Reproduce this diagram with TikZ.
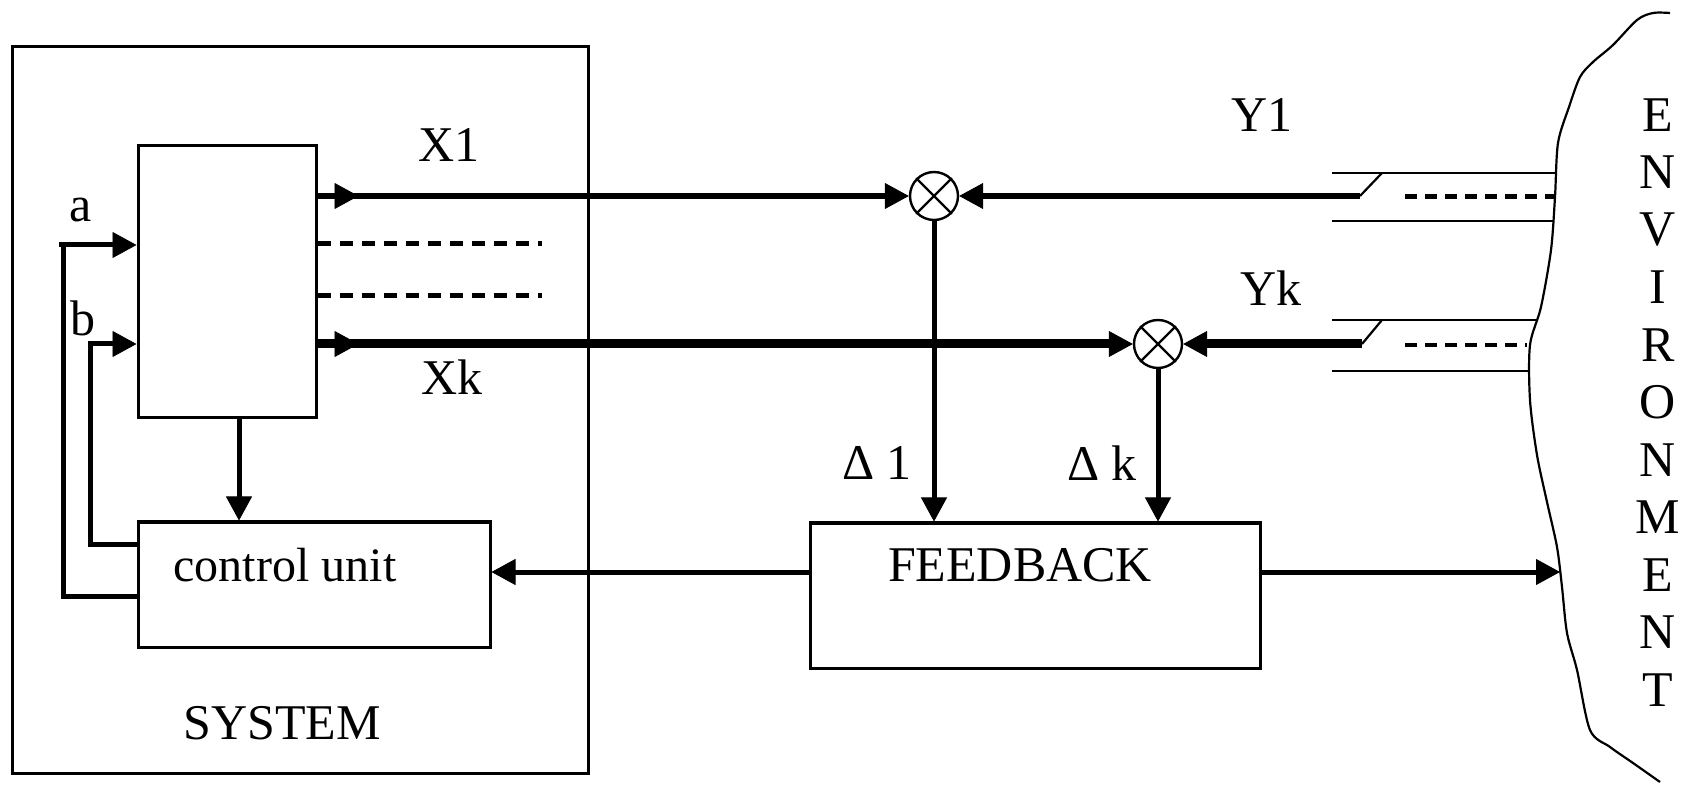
\documentclass[tikz,border=0pt]{standalone}
\usepackage{fontspec}
\setmainfont{Liberation Serif}
\usetikzlibrary{arrows.meta}
\tikzset{
  tip/.tip={Triangle[length=12pt,width=13pt,line width=0.4pt]},
  boxed/.style={draw,line width=1.5pt,inner sep=0pt},
  sig/.style={line width=3pt},
  sigk/.style={line width=4.5pt},
  wire/.style={line width=2.5pt},
  thinl/.style={line width=1.1pt},
  dsh/.style={line width=2.5pt,dash pattern=on 6.5pt off 4.5pt},
  lbl/.style={inner sep=0pt,font=\fontsize{25}{30}\selectfont},
  summer/.style={draw,circle,line width=1.2pt,minimum size=24pt,inner sep=0pt},
}
\begin{document}
\begin{tikzpicture}[x=0.5pt,y=-0.5pt]
\useasboundingbox (0,0) rectangle (1694,786);
% boxes
\node[boxed,minimum width=288pt,minimum height=363pt] (sys) at (300,410) {};
\node[boxed,minimum width=89pt,minimum height=136pt] (blk) at (227,282) {};
\node[boxed,minimum width=176pt,minimum height=62.5pt] (ctrl) at (314,584.5) {};
\node[boxed,minimum width=225pt,minimum height=72.5pt] (fb) at (1035,595.5) {};
% texts
\node[lbl,font=\fontsize{24}{29}\selectfont] (cutext) at (285,565) {control unit};
\node[lbl] (systext) at (282,723) {SYSTEM};
\node[lbl] (fbtext) at (1020,565) {FEEDBACK};
\node[lbl] (la) at (81,210) {a};
\node[lbl] (lb) at (83,318) {b};
\node[lbl] (lx1) at (449,145) {X1};
\node[lbl] (lxk) at (452,377) {Xk};
\node[lbl] (ly1) at (1262,115) {Y1};
\node[lbl] (lyk) at (1271,288) {Yk};
\node[lbl] (ld1) at (877,463) {Δ 1};
\node[lbl] (ldk) at (1102,463) {Δ k};
% summing junctions
\node[summer] (c1) at (934,196) {};
\node[summer] (c2) at (1158,344) {};
\draw[line width=1.2pt] (c1.north west) -- (c1.south east) (c1.north east) -- (c1.south west);
\draw[line width=1.2pt] (c2.north west) -- (c2.south east) (c2.north east) -- (c2.south west);
% outputs X1 .. Xk
\draw[sig,-tip] (blk.east |- c1) -- ++(41,0);
\draw[sig,-tip] (blk.east |- c1) -- (c1.west);
\draw[sigk,-tip] (blk.east |- c2) -- ++(41,0);
\draw[sigk,-tip] (blk.east |- c2) -- (c2.west);
\coordinate (d1) at (542,244);
\coordinate (d2) at (542,296);
\draw[dsh] (blk.east |- d1) -- (d1);
\draw[dsh] (blk.east |- d2) -- (d2);
% inputs a, b
\coordinate (acorner) at (63,596);
\coordinate (ain) at (59,245);
\coordinate (bcorner) at (90,544);
\coordinate (bin) at (90,344);
\draw[wire] (ain) -- (ain -| acorner);
\draw[wire,-tip] (ctrl.west |- acorner) -- (acorner) -- (ain -| acorner) -- (blk.west |- ain);
\draw[wire,-tip] (ctrl.west |- bcorner) -- (bcorner) -- (bin) -- (blk.west |- bin);
% block to control unit
\coordinate (dn) at (239,0);
\draw[wire,-tip] (blk.south -| dn) -- (ctrl.north -| dn);
% deltas to feedback
\draw[wire,-tip] (c1.south) -- (fb.north -| c1);
\draw[wire,-tip] (c2.south) -- (fb.north -| c2);
% feedback outputs
\coordinate (envin) at (1560,572);
\draw[wire,-tip] (fb.west |- envin) -- (ctrl.east |- envin);
\draw[wire,-tip] (fb.east |- envin) -- (envin);
% Y1 channel
\coordinate (y1s) at (1360,196);
\draw[sig,-tip] (y1s) -- (c1.east);
\draw[thinl] (y1s) -- (1382,173);
\draw[thinl] (1332,173) -- (1555,173);
\draw[thinl] (1332,221) -- (1553,221);
\draw[wire,dash pattern=on 6pt off 4pt] (1405,197) -- (1555,197);
% Yk channel
\coordinate (yks) at (1362,344);
\draw[sigk,-tip] (yks) -- (c2.east);
\draw[thinl] (yks) -- (1382,320);
\draw[thinl] (1332,320) -- (1537,320);
\draw[thinl] (1332,371) -- (1530,371);
\draw[line width=1.6pt,dash pattern=on 6pt off 4pt] (1405,345) -- (1527,345);
% environment boundary
\draw[thinl] plot[smooth,tension=0.5] coordinates {(1670,13) (1653,13) (1637,20) (1613,45) (1593,62) (1580,77) (1569,107) (1558,143) (1555,197) (1551,250) (1541,307) (1530,345) (1530,400) (1537,455) (1547,502) (1557,547) (1562,587) (1567,633) (1577,670) (1590,730) (1610,747) (1633,763) (1660,782)};
\foreach \ch [count=\i from 0] in {E,N,V,I,R,O,N,M,E,N,T}
  \node[lbl] (env\i) at (1658,115+57.5*\i) {\ch};
\end{tikzpicture}
\end{document}
